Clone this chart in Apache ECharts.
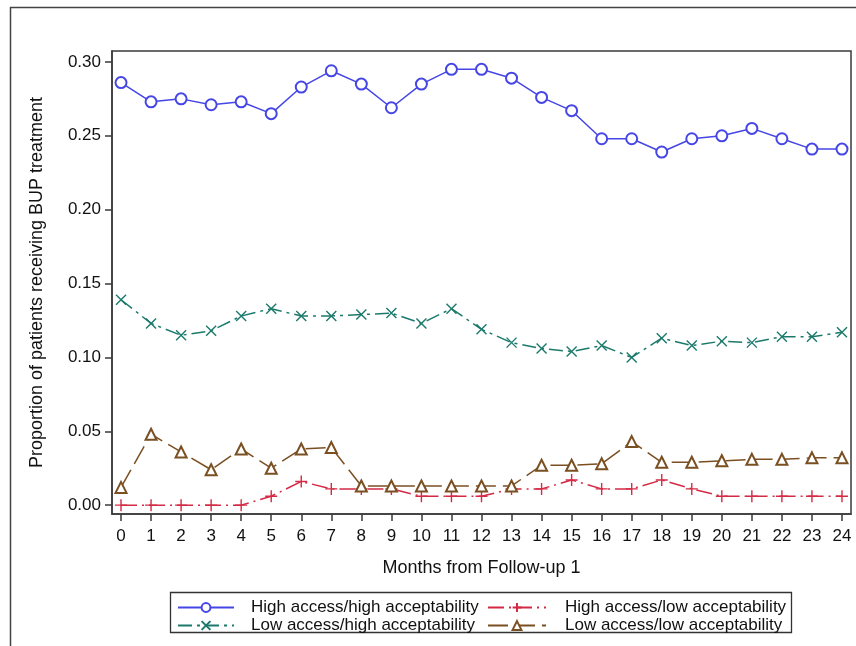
<!DOCTYPE html>
<html>
<head>
<meta charset="utf-8">
<script src="https://cdn.jsdelivr.net/npm/echarts@6/dist/echarts.min.js"></script>
<style>
  html, body { margin: 0; padding: 0; background: #fff; }
  #chart { width: 856px; height: 646px; }
</style>
</head>
<body>
<div id="chart"></div>
<script>
// months and y ticks
const months = [0, 1, 2, 3, 4, 5, 6, 7, 8, 9, 10, 11, 12, 13, 14, 15, 16, 17, 18, 19, 20, 21, 22, 23, 24];
const yTicks = [0, 0.05, 0.10, 0.15, 0.20, 0.25, 0.30];

const highHigh = [0.286, 0.273, 0.275, 0.271, 0.273, 0.265, 0.283, 0.294, 0.285, 0.269, 0.285, 0.295, 0.295,
  0.289, 0.276, 0.267, 0.248, 0.248, 0.239, 0.248, 0.250, 0.255, 0.248, 0.241, 0.241];
const highLow = [0, 0, 0, 0, 0, 0.006, 0.016, 0.011, 0.011, 0.011, 0.006, 0.006, 0.006,
  0.011, 0.011, 0.017, 0.011, 0.011, 0.017, 0.011, 0.006, 0.006, 0.006, 0.006, 0.006];
const lowHigh = [0.139, 0.123, 0.115, 0.118, 0.128, 0.133, 0.128, 0.128, 0.129, 0.130, 0.123, 0.133, 0.119,
  0.110, 0.106, 0.104, 0.108, 0.100, 0.113, 0.108, 0.111, 0.110, 0.114, 0.114, 0.117];
const lowLow = [0.012, 0.048, 0.036, 0.024, 0.038, 0.025, 0.038, 0.039, 0.013, 0.013, 0.013, 0.013, 0.013,
  0.013, 0.027, 0.027, 0.028, 0.043, 0.029, 0.029, 0.030, 0.031, 0.031, 0.032, 0.032];

const FONT = "'Liberation Sans', Arial, sans-serif";
const pairs = arr => arr.map((v, i) => [months[i], v]);

let mychart = echarts.init(document.getElementById("chart"), null, { renderer: "canvas" });

function mkSeries(name, data, color, symbol, size, dash) {
  return {
    name: name,
    type: "line",
    data: pairs(data),
    symbol: symbol,
    symbolSize: size,
    showAllSymbol: true,
    lineStyle: { color: color, width: 1.5, type: dash },
    itemStyle: { color: color, borderColor: color, borderWidth: 1.4 },
    emphasis: { disabled: true },
  };
}

const option = {
  animation: false,
  backgroundColor: "#fff",
  textStyle: { fontFamily: FONT },
  grid: {
    left: 112, top: 51, right: 5, bottom: 132,
    show: true, borderColor: "#3a3a3a", borderWidth: 1.5, backgroundColor: "#fff",
  },
  xAxis: {
    type: "value",
    min: -0.3,
    max: 24.3,
    name: "Months from Follow-up 1",
    nameLocation: "middle",
    nameGap: 45,
    nameTextStyle: { fontSize: 18, color: "#111", fontFamily: FONT },
    axisLine: { show: true, onZero: false, lineStyle: { color: "#3a3a3a", width: 1.5 } },
    axisTick: { show: true, length: 7, customValues: months, lineStyle: { color: "#3a3a3a", width: 1.5 } },
    axisLabel: { customValues: months, margin: 14, fontSize: 17, color: "#111", fontFamily: FONT },
    splitLine: { show: false },
  },
  yAxis: {
    type: "value",
    min: -0.006,
    max: 0.3074,
    name: "Proportion of patients receiving BUP treatment",
    nameLocation: "middle",
    nameGap: 66,
    nameTextStyle: { fontSize: 18, color: "#111", fontFamily: FONT },
    axisLine: { show: true, onZero: false, lineStyle: { color: "#3a3a3a", width: 1.5 } },
    axisTick: { show: true, length: 7, customValues: yTicks, lineStyle: { color: "#3a3a3a", width: 1.5 } },
    axisLabel: {
      customValues: yTicks, margin: 11, fontSize: 17, color: "#111", fontFamily: FONT,
      formatter: v => v.toFixed(2),
    },
    splitLine: { show: false },
  },
  legend: [
    {
      data: ["High access/high acceptability", "Low access/high acceptability"],
      orient: "vertical",
      left: 172, top: 594,
      itemWidth: 56, itemHeight: 11, itemGap: 1,
      textStyle: { fontSize: 17, color: "#111", fontFamily: FONT, padding: [0, 0, 0, 12] },
      selectedMode: false,
    },
    {
      data: ["High access/low acceptability", "Low access/low acceptability"],
      orient: "vertical",
      left: 482, top: 594,
      itemWidth: 58, itemHeight: 11, itemGap: 1,
      textStyle: { fontSize: 17, color: "#111", fontFamily: FONT, padding: [0, 0, 0, 14] },
      selectedMode: false,
    },
  ],
  graphic: [
    {
      type: "rect", silent: true, z: -1,
      shape: { x: 10.5, y: 7.5, width: 900, height: 700 },
      style: { fill: "none", stroke: "#444", lineWidth: 1.5 },
    },
    {
      type: "rect", silent: true,
      shape: { x: 170.5, y: 592.5, width: 621, height: 40 },
      style: { fill: "none", stroke: "#333", lineWidth: 1.3 },
    },
  ],
  series: [
    mkSeries("High access/high acceptability", highHigh, "#4646e6", "emptyCircle", 11, "solid"),
    mkSeries("High access/low acceptability", highLow, "#d42a45", "path://M5,0L5,10M0,5L10,5", 12, [16, 5, 2, 5]),
    mkSeries("Low access/high acceptability", lowHigh, "#1b7a6c", "path://M0,0L10,10M10,0L0,10", 10, [14, 5, 3, 5]),
    mkSeries("Low access/low acceptability", lowLow, "#7a4f22", "emptyTriangle", 11, [20, 7]),
  ],
};
mychart.setOption(option);
</script>
</body>
</html>
